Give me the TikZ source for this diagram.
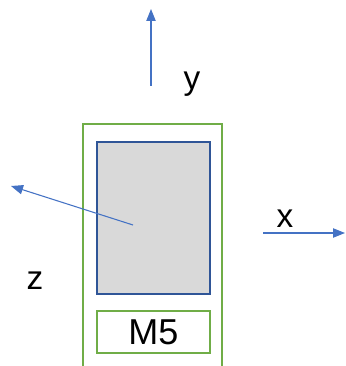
\documentclass[tikz,border=0pt]{standalone}
\usepackage{fontspec}
\setmainfont{Liberation Sans}
\usetikzlibrary{arrows.meta}
\definecolor{axisblue}{HTML}{4472C4}
\definecolor{boxgreen}{HTML}{70AD47}
\definecolor{chipblue}{HTML}{2F5597}
\definecolor{chipgray}{HTML}{D9D9D9}
\tikzset{
  axis/.style={draw=axisblue, line width=0.8pt, -{Triangle[length=9pt,width=7pt]}},
  lbl/.style={font=\fontsize{25}{29}\selectfont, inner sep=0pt},
}
\begin{document}
\begin{tikzpicture}[x=0.75pt, y=-0.75pt]
  \useasboundingbox (0,0) rectangle (345,366);
  % board
  \draw[boxgreen, line width=1.2pt] (83,366) -- (83,124) -- (222,124) -- (222,366);
  % chip
  \node (chip) [draw=chipblue, fill=chipgray, line width=1.2pt, minimum width=85pt,
    minimum height=114pt, inner sep=0pt] at (153.5,218) {};
  % label box
  \node (name) [draw=boxgreen, line width=1.2pt, minimum width=85pt, minimum height=31.5pt,
    inner sep=0pt, font=\fontsize{27}{31}\selectfont] at (153.5,332) {M5};
  % y axis
  \coordinate (y0) at (151,86);
  \coordinate (y1) at (151,9);
  \draw[axis] (y0) -- (y1);
  \node (ylbl) [lbl] at (192,84) {y};
  % z axis
  \coordinate (z0) at (133,225);
  \coordinate (z1) at (11,186);
  \draw[axis] (z0) -- (z1);
  \node (zlbl) [lbl] at (35,281) {z};
  % x axis
  \coordinate (x0) at (263,233);
  \coordinate (x1) at (345,233);
  \draw[axis] (x0) -- (x1);
  \node (xlbl) [lbl] at (285,219) {x};
\end{tikzpicture}
\end{document}
